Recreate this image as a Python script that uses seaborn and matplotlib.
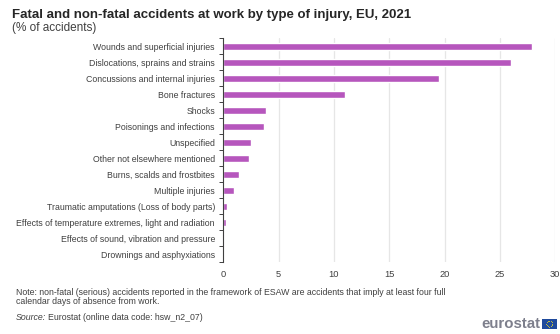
import matplotlib
matplotlib.use("Agg")
import matplotlib.pyplot as plt
import matplotlib.patches as mpatches
import numpy as np
import pandas as pd
import seaborn as sns

categories = [
    "Wounds and superficial injuries",
    "Dislocations, sprains and strains",
    "Concussions and internal injuries",
    "Bone fractures",
    "Shocks",
    "Poisonings and infections",
    "Unspecified",
    "Other not elsewhere mentioned",
    "Burns, scalds and frostbites",
    "Multiple injuries",
    "Traumatic amputations (Loss of body parts)",
    "Effects of temperature extremes, light and radiation",
    "Effects of sound, vibration and pressure",
    "Drownings and asphyxiations",
]
shares = [27.9, 26.0, 19.5, 11.0, 3.9, 3.65, 2.5, 2.35, 1.45, 1.0, 0.37, 0.2, 0.1, 0.02]
x_ticks = [0, 5, 10, 15, 20, 25, 30]

W, H = 560, 334
BAR = "#b656bd"
TEXT = "#404040"

sns.set_theme(style="white")
plt.rcParams["font.family"] = ["Liberation Sans", "DejaVu Sans"]

df = pd.DataFrame({"injury": categories, "share": shares})
fig = plt.figure(figsize=(W / 100, H / 100), dpi=100, facecolor="white")
ax = fig.add_axes([223.3 / W, 1 - 262.4 / H, (555.3 - 223.3) / W, (262.4 - 38.3) / H])

sns.barplot(data=df, x="share", y="injury", color=BAR, saturation=1, width=0.46, ax=ax, zorder=3)

ax.set_xlim(0, 30)
ax.set_ylim(13.5, -0.5)
ax.set_xlabel("")
ax.set_ylabel("")
ax.set_xticks(x_ticks)
ax.grid(axis="x", color="#e6e6e6", linewidth=0.9)
ax.grid(axis="y", visible=False)
ax.get_xgridlines()[0].set_visible(False)

# Category ticks sit on the boundaries between bars; labels stay centred on the bars
ax.set_yticks(np.arange(-0.5, 14, 1), minor=True)
ax.tick_params(axis="y", which="minor", length=3, width=0.7, color="#404040", left=True)
ax.tick_params(axis="y", which="major", length=0, pad=6.0, labelsize=6.3, labelcolor=TEXT)
ax.tick_params(axis="x", which="major", length=0, pad=5.3, labelsize=6.7, labelcolor=TEXT)

for side in ("top", "right", "bottom"):
    ax.spines[side].set_visible(False)
ax.spines["left"].set_color("#404040")
ax.spines["left"].set_linewidth(0.8)
ax.spines["left"].set_zorder(4)


def put(x, y, s, **kw):
    fig.text(x / W, 1 - y / H, s, va="baseline", **kw)


put(12.5, 18, "Fatal and non-fatal accidents at work by type of injury, EU, 2021",
    fontsize=9.5, fontweight="bold", color="#262626")
put(12.5, 31, "(% of accidents)", fontsize=8.5, color=TEXT)
put(15.5, 295, "Note: non-fatal (serious) accidents reported in the framework of ESAW are accidents "
    "that imply at least four full", fontsize=6.34, color=TEXT)
put(15.5, 304.5, "calendar days of absence from work.", fontsize=6.34, color=TEXT)
put(15.5, 320, "Source:", fontsize=6.34, color=TEXT, style="italic")
put(48.5, 320, "Eurostat (online data code: hsw_n2_07)", fontsize=6.34, color=TEXT)

# Publisher mark: wordmark and flag in the lower right corner
put(481.5, 328.5, "eurostat", fontsize=10.8, fontweight="bold", color="#7d7f8c")
fig.add_artist(mpatches.Rectangle((541.8 / W, 1 - 328.5 / H), 15 / W, 9.5 / H,
                                  transform=fig.transFigure, facecolor="#1f4a9c", edgecolor="none"))
angles = np.linspace(0, 2 * np.pi, 12, endpoint=False)
fig.add_artist(plt.Line2D((549.3 + 3.0 * np.cos(angles)) / W,
                          1 - (323.7 + 3.0 * np.sin(angles)) / H,
                          transform=fig.transFigure, linestyle="none", marker="o",
                          markersize=0.7, markeredgewidth=0, color="#c9c23f"))

fig.savefig("out.png", dpi=100, facecolor="white")
